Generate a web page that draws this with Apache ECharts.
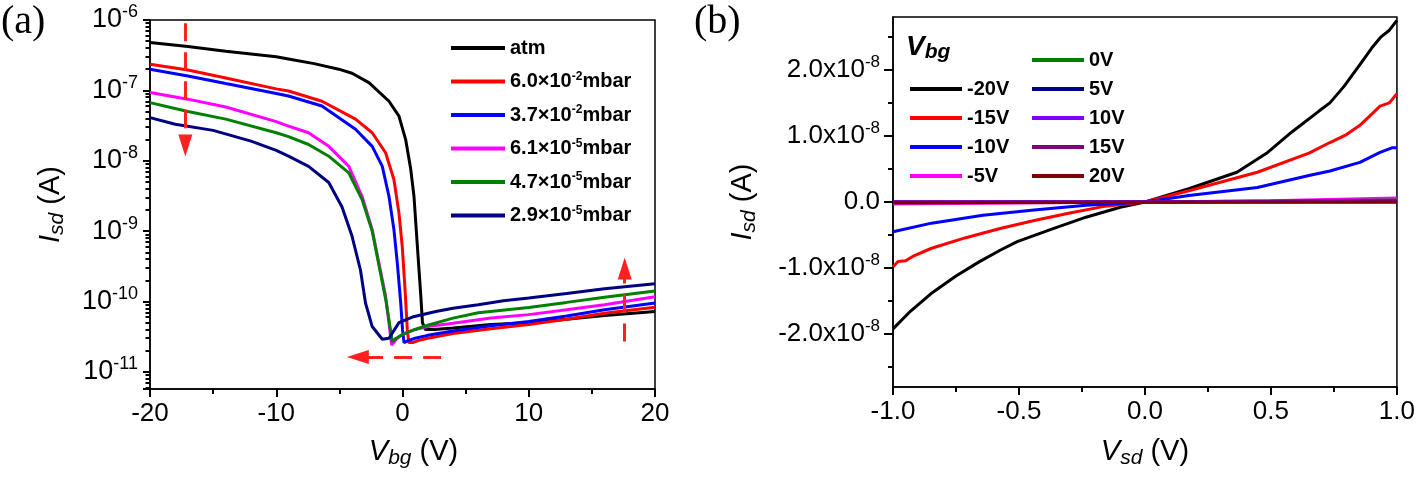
<!DOCTYPE html>
<html>
<head>
<meta charset="utf-8">
<script src="https://cdn.jsdelivr.net/npm/echarts@6/dist/echarts.min.js"></script>
<style>
html, body { margin: 0; padding: 0; background: #fff; }
#chart { width: 1418px; height: 477px; }
</style>
</head>
<body>
<div id="chart"></div>
<script>
var FONT = '"Liberation Sans", Arial, sans-serif';

// ---- (a) transfer curves: Isd vs Vbg at several pressures ----
var pressureNames = ['atm', '6.0×10^-2mbar', '3.7×10^-2mbar', '6.1×10^-5mbar', '4.7×10^-5mbar', '2.9×10^-5mbar'];
var pressureColors = ['#000000', '#ff0000', '#0000ff', '#ff00ff', '#008000', '#000080'];

var vbgAtm = [-20, -17, -14, -10, -9.03, -7, -5.05, -4, -2.66, -1.07, -0.28, 0.25, 0.65, 0.91, 1.18, 1.45, 1.58, 1.8, 2.5, 4, 7, 10, 13, 16, 20];
var isdAtm = [4.8e-7, 4.2e-7, 3.6e-7, 3.0e-7, 2.8e-7, 2.4e-7, 2.0e-7, 1.75e-7, 1.29e-7, 7e-8, 4.3e-8, 2e-8, 7.6e-9, 3.1e-9, 6e-10, 1.2e-10, 5e-11, 4.0e-11, 4.0e-11, 4.2e-11, 4.7e-11, 5.0e-11, 5.6e-11, 6.3e-11, 7.2e-11];

var vbgP1 = [-20, -17, -14, -10, -9.03, -6.38, -3.72, -2.4, -1.34, -0.68, -0.28, -0.02, 0.2, 0.38, 0.5, 0.8, 1.3, 2, 4, 7, 10, 13, 16, 20];
var isdP1 = [2.35e-7, 1.95e-7, 1.5e-7, 1.05e-7, 9.8e-8, 7e-8, 3.9e-8, 2.5e-8, 1.3e-8, 5.4e-9, 1.8e-9, 6e-10, 1.5e-10, 4e-11, 2.6e-11, 2.6e-11, 2.8e-11, 3.0e-11, 3.5e-11, 4.1e-11, 4.7e-11, 5.6e-11, 6.8e-11, 8.3e-11];

var vbgP2 = [-20, -17, -14, -10, -9.03, -6.38, -3.72, -2.4, -1.6, -1.07, -0.68, -0.41, -0.14, 0, 0.12, 0.5, 1, 2, 4, 7, 10, 13, 16, 20];
var isdP2 = [2.0e-7, 1.6e-7, 1.25e-7, 9e-8, 8.3e-8, 6e-8, 2.8e-8, 1.6e-8, 8.3e-9, 3.1e-9, 1.05e-9, 3.5e-10, 9.5e-11, 4e-11, 2.6e-11, 2.8e-11, 3.0e-11, 3.3e-11, 3.8e-11, 4.5e-11, 5.2e-11, 6.2e-11, 7.6e-11, 9.5e-11];

var vbgP3 = [-20, -17, -14, -10, -9.03, -7.44, -5.84, -4.25, -3.2, -2.4, -1.87, -1.34, -1.07, -0.86, -0.5, 0, 1, 2, 4, 7, 10, 13, 16, 20];
var isdP3 = [9.3e-8, 7.5e-8, 5.8e-8, 3.6e-8, 3.1e-8, 2.5e-8, 1.6e-8, 8.3e-9, 3.1e-9, 1.05e-9, 3.5e-10, 1.2e-10, 4.9e-11, 2.4e-11, 2.9e-11, 3.4e-11, 4.0e-11, 4.4e-11, 4.9e-11, 5.8e-11, 6.5e-11, 7.6e-11, 9.0e-11, 1.17e-10];

var vbgP4 = [-20, -17, -14, -10, -9.03, -7.44, -5.84, -4.25, -3.2, -2.4, -1.87, -1.3, -1.0, -0.81, -0.5, 0, 1, 2, 4, 6, 10, 13, 16, 20];
var isdP4 = [6.7e-8, 5.0e-8, 3.9e-8, 2.5e-8, 2.2e-8, 1.7e-8, 1.16e-8, 6.7e-9, 2.8e-9, 1.0e-9, 3.3e-10, 1.0e-10, 4.5e-11, 2.7e-11, 3.0e-11, 3.4e-11, 4.0e-11, 4.6e-11, 5.8e-11, 6.9e-11, 8.2e-11, 9.7e-11, 1.15e-10, 1.41e-10];

var vbgP5 = [-20, -18, -15, -12, -10, -9.03, -7.44, -5.84, -4.79, -4, -3.33, -2.93, -2.4, -1.6, -1.07, -0.28, 0.78, 2.64, 4, 6, 8, 10, 13, 16, 20];
var isdP5 = [4.1e-8, 3.3e-8, 2.7e-8, 1.9e-8, 1.4e-8, 1.16e-8, 8.3e-9, 4.9e-9, 2.2e-9, 8.5e-10, 2.8e-10, 9.5e-11, 4.4e-11, 2.9e-11, 3.0e-11, 5.0e-11, 6.0e-11, 7.2e-11, 8.0e-11, 9.0e-11, 1.02e-10, 1.12e-10, 1.3e-10, 1.52e-10, 1.78e-10];

var vbgSets = [vbgAtm, vbgP1, vbgP2, vbgP3, vbgP4, vbgP5];
var isdSets = [isdAtm, isdP1, isdP2, isdP3, isdP4, isdP5];

// red dashed arrows of panel (a): [start, end] in data units
var arrowDown = [[-17.2, 9e-7], [-17.2, 1.65e-8]];
var arrowLeft = [[3.06, 1.62e-11], [-3.54, 1.62e-11]];
var arrowUp = [[17.6, 2.7e-11], [17.6, 2.95e-10]];

// ---- (b) output curves: Isd vs Vsd at several Vbg ----
var gateNames = ['-20V', '-15V', '-10V', '-5V', '0V', '5V', '10V', '15V', '20V'];
var gateColors = ['#000000', '#ff0000', '#0000ff', '#ff00ff', '#008000', '#000080', '#8000ff', '#800080', '#800000'];

var vsdM20 = [-1, -0.93, -0.85, -0.75, -0.66, -0.575, -0.507, -0.37, -0.234, -0.098, 0, 0.174, 0.365, 0.487, 0.583, 0.692, 0.734, 0.79, 0.853, 0.9, 0.937, 0.97, 1.0];
var isdM20 = [-1.92e-8, -1.65e-8, -1.39e-8, -1.12e-8, -0.91e-8, -0.73e-8, -0.6e-8, -0.41e-8, -0.23e-8, -0.08e-8, 0, 0.2e-8, 0.45e-8, 0.75e-8, 1.06e-8, 1.38e-8, 1.5e-8, 1.75e-8, 2.08e-8, 2.33e-8, 2.5e-8, 2.6e-8, 2.75e-8];

var vsdM15 = [-1, -0.98, -0.95, -0.915, -0.847, -0.711, -0.575, -0.439, -0.303, -0.167, 0, 0.174, 0.446, 0.651, 0.734, 0.8, 0.853, 0.9, 0.933, 0.97, 1.0];
var isdM15 = [-0.98e-8, -0.9e-8, -0.89e-8, -0.81e-8, -0.7e-8, -0.54e-8, -0.4e-8, -0.28e-8, -0.17e-8, -0.07e-8, 0, 0.17e-8, 0.45e-8, 0.74e-8, 0.9e-8, 1.02e-8, 1.16e-8, 1.33e-8, 1.45e-8, 1.5e-8, 1.64e-8];

var vsdM10 = [-1, -0.847, -0.643, -0.44, -0.234, 0, 0.174, 0.446, 0.651, 0.734, 0.853, 0.933, 0.98, 1.0];
var isdM10 = [-0.45e-8, -0.32e-8, -0.2e-8, -0.12e-8, -0.05e-8, 0, 0.1e-8, 0.22e-8, 0.4e-8, 0.47e-8, 0.6e-8, 0.75e-8, 0.82e-8, 0.82e-8];

var vsdM5 = [-1, 0, 0.5, 1];
var isdM5 = [-0.03e-8, 0, 0.02e-8, 0.06e-8];
var vsd0 = [-1, 0, 1];
var isd0 = [-0.01e-8, 0, 0.03e-8];
var vsdP5 = [-1, 1];
var isdP5 = [0, 0.01e-8];
var vsdP10 = [-1, 1];
var isdP10 = [0.005e-8, 0.005e-8];
var vsdP15 = [-1, 1];
var isdP15 = [0, 0];
var vsdP20 = [-1, 1];
var isdP20 = [-0.01e-8, 0];

var vsdSets = [vsdM20, vsdM15, vsdM10, vsdM5, vsd0, vsdP5, vsdP10, vsdP15, vsdP20];
var isdGateSets = [isdM20, isdM15, isdM10, isdM5, isd0, isdP5, isdP10, isdP15, isdP20];

// tick values
var logMinorMantissa = [2, 3, 4, 5, 6, 7, 8, 9];
var logMinorDecades = [-12, -11, -10, -9, -8, -7];
var linMajorTicks = [-2e-8, -1e-8, 0, 1e-8, 2e-8];
var linMinorTicks = [-2.5e-8, -1.5e-8, -0.5e-8, 0.5e-8, 1.5e-8, 2.5e-8];

var logMinorTicks = [];
logMinorDecades.forEach(function (d) {
	logMinorMantissa.forEach(function (m) {
		var v = m * Math.pow(10, d);
		if (v > 5.7e-12 && v < 1e-6) logMinorTicks.push(v);
	});
});

function pairs(xs, ys) {
	return xs.map(function (x, i) { return [x, ys[i]]; });
}

function supRich(big, small) {
	return {
		b: { fontSize: big, fontFamily: FONT, color: '#000', lineHeight: big + 6 },
		s: { fontSize: small, fontFamily: FONT, color: '#000', verticalAlign: 'top', lineHeight: small - 2 }
	};
}
function nameStyle(extra) {
	var st = {
		fontSize: 29, fontFamily: FONT, color: '#000', lineHeight: 34,
		rich: {
			i: { fontSize: 29, fontFamily: FONT, fontStyle: 'italic', color: '#000', lineHeight: 34 },
			s: { fontSize: 21, fontFamily: FONT, fontStyle: 'italic', color: '#000', verticalAlign: 'bottom', lineHeight: 10 }
		}
	};
	return Object.assign(st, extra || {});
}
function axisLine() {
	return { show: true, onZero: false, lineStyle: { color: '#000', width: 1.5 } };
}
function tick(len, values) {
	var t = { show: true, length: len, lineStyle: { color: '#000', width: 2 } };
	if (values) t.customValues = values;
	return t;
}

var series = [];
pressureNames.forEach(function (name, k) {
	var s = {
		name: name,
		type: 'line',
		xAxisIndex: 0,
		yAxisIndex: 0,
		symbol: 'none',
		lineStyle: { width: 3, color: pressureColors[k] },
		itemStyle: { color: pressureColors[k] },
		data: pairs(vbgSets[k], isdSets[k])
	};
	if (k === 0) {
		s.markLine = {
			silent: true,
			animation: false,
			symbol: ['none', 'triangle'],
			symbolSize: 18,
			label: { show: false },
			lineStyle: { color: '#ff2020', width: 3, type: [18, 11] },
			data: [arrowDown, arrowLeft, arrowUp].map(function (a) {
				return [{ coord: a[0], symbol: 'none' }, { coord: a[1], symbol: 'triangle', symbolSize: [14, 22] }];
			})
		};
	}
	series.push(s);
});
gateNames.forEach(function (name, k) {
	series.push({
		name: name,
		type: 'line',
		xAxisIndex: 1,
		yAxisIndex: 2,
		symbol: 'none',
		lineStyle: { width: 3, color: gateColors[k] },
		itemStyle: { color: gateColors[k] },
		data: pairs(vsdSets[k], isdGateSets[k])
	});
});

function legendText() {
	return {
		fontSize: 20,
		fontWeight: 'bold',
		fontFamily: FONT,
		color: '#000',
		lineHeight: 22,
		rich: {
			s: { fontSize: 12, fontWeight: 'bold', fontFamily: FONT, color: '#000', verticalAlign: 'top', lineHeight: 10 }
		}
	};
}

var myChart = echarts.init(document.getElementById('chart'));
var option = {
	animation: false,
	backgroundColor: '#fff',
	grid: [
		{ left: 150, top: 20, width: 505, height: 369, show: true, borderColor: '#000', borderWidth: 1.5 },
		{ left: 893, top: 17, width: 504, height: 370, show: true, borderColor: '#000', borderWidth: 1.5 }
	],
	xAxis: [
		{
			gridIndex: 0, type: 'value', min: -20, max: 20, interval: 10,
			axisLine: axisLine(),
			axisTick: tick(8),
			minorTick: { show: true, splitNumber: 2, length: 5, lineStyle: { color: '#000', width: 2 } },
			splitLine: { show: false },
			axisLabel: { fontSize: 26, fontFamily: FONT, color: '#000', margin: 12 },
			name: '{i|V}{s|bg} (V)', nameLocation: 'middle', nameGap: 46,
			nameTextStyle: nameStyle({ padding: [0, 0, 0, 22] })
		},
		{
			gridIndex: 1, type: 'value', min: -1, max: 1, interval: 0.5,
			axisLine: axisLine(),
			axisTick: tick(8),
			minorTick: { show: true, splitNumber: 2, length: 5, lineStyle: { color: '#000', width: 2 } },
			splitLine: { show: false },
			axisLabel: {
				fontSize: 26, fontFamily: FONT, color: '#000', margin: 12,
				formatter: function (v) { return v.toFixed(1); }
			},
			name: '{i|V}{s|sd} (V)', nameLocation: 'middle', nameGap: 48,
			nameTextStyle: nameStyle()
		}
	],
	yAxis: [
		{
			gridIndex: 0, type: 'log', min: 5.7e-12, max: 1e-6,
			axisLine: axisLine(),
			axisTick: tick(7),
			splitLine: { show: false },
			axisLabel: {
				margin: 12,
				formatter: function (v) {
					var e = Math.log(v) / Math.LN10;
					var r = Math.round(e);
					if (Math.abs(e - r) > 0.01) return '';
					return '{b|10}{s|' + r + '}';
				},
				rich: supRich(27, 18)
			},
			name: '{i|I}{s|sd} (A)', nameLocation: 'middle', nameGap: 82,
			nameTextStyle: nameStyle()
		},
		{
			gridIndex: 0, type: 'log', min: 5.7e-12, max: 1e-6, position: 'left',
			axisLine: { show: false, onZero: false },
			axisLabel: { show: false },
			axisTick: tick(4.5, logMinorTicks),
			splitLine: { show: false }
		},
		{
			gridIndex: 1, type: 'value', min: -2.8e-8, max: 2.8e-8,
			axisLine: axisLine(),
			axisTick: tick(9, linMajorTicks),
			splitLine: { show: false },
			axisLabel: {
				margin: 13,
				customValues: linMajorTicks,
				formatter: function (v) {
					if (Math.abs(v) < 1e-12) return '{b|0.0}';
					return '{b|' + (v / 1e-8).toFixed(1) + 'x10}{s|-8}';
				},
				rich: supRich(26, 17)
			},
			name: '{i|I}{s|sd} (A)', nameLocation: 'middle', nameGap: 133,
			nameTextStyle: nameStyle()
		},
		{
			gridIndex: 1, type: 'value', min: -2.8e-8, max: 2.8e-8, position: 'left',
			axisLine: { show: false, onZero: false },
			axisLabel: { show: false },
			axisTick: tick(5, linMinorTicks),
			splitLine: { show: false }
		}
	],
	legend: [
		{
			data: pressureNames,
			orient: 'vertical', left: 446, top: 32,
			icon: 'rect', itemWidth: 54, itemHeight: 4, itemGap: 11.5,
			selectedMode: false,
			formatter: function (name) { return name.replace(/\^(-?\d+)/, '{s|$1}'); },
			textStyle: legendText()
		},
		{
			data: gateNames.slice(0, 4),
			orient: 'vertical', left: 905, top: 73,
			icon: 'rect', itemWidth: 52, itemHeight: 4, itemGap: 7,
			selectedMode: false,
			textStyle: legendText()
		},
		{
			data: gateNames.slice(4),
			orient: 'vertical', left: 1027, top: 44,
			icon: 'rect', itemWidth: 52, itemHeight: 4, itemGap: 7,
			selectedMode: false,
			textStyle: legendText()
		}
	],
	graphic: [
		{ type: 'text', left: 1, top: 2, style: { text: '(a)', font: '40px "Liberation Serif", "Times New Roman", serif', fill: '#000' } },
		{ type: 'text', left: 694, top: 2, style: { text: '(b)', font: '40px "Liberation Serif", "Times New Roman", serif', fill: '#000' } },
		{
			type: 'text', left: 906, top: 33,
			style: {
				text: '{v|V}{s|bg}',
				rich: {
					v: { fontSize: 28, fontWeight: 'bold', fontStyle: 'italic', fontFamily: FONT, fill: '#000', lineHeight: 32 },
					s: { fontSize: 21, fontWeight: 'bold', fontStyle: 'italic', fontFamily: FONT, fill: '#000', verticalAlign: 'bottom', lineHeight: 8 }
				}
			}
		}
	],
	series: series
};
myChart.setOption(option);
</script>
</body>
</html>
